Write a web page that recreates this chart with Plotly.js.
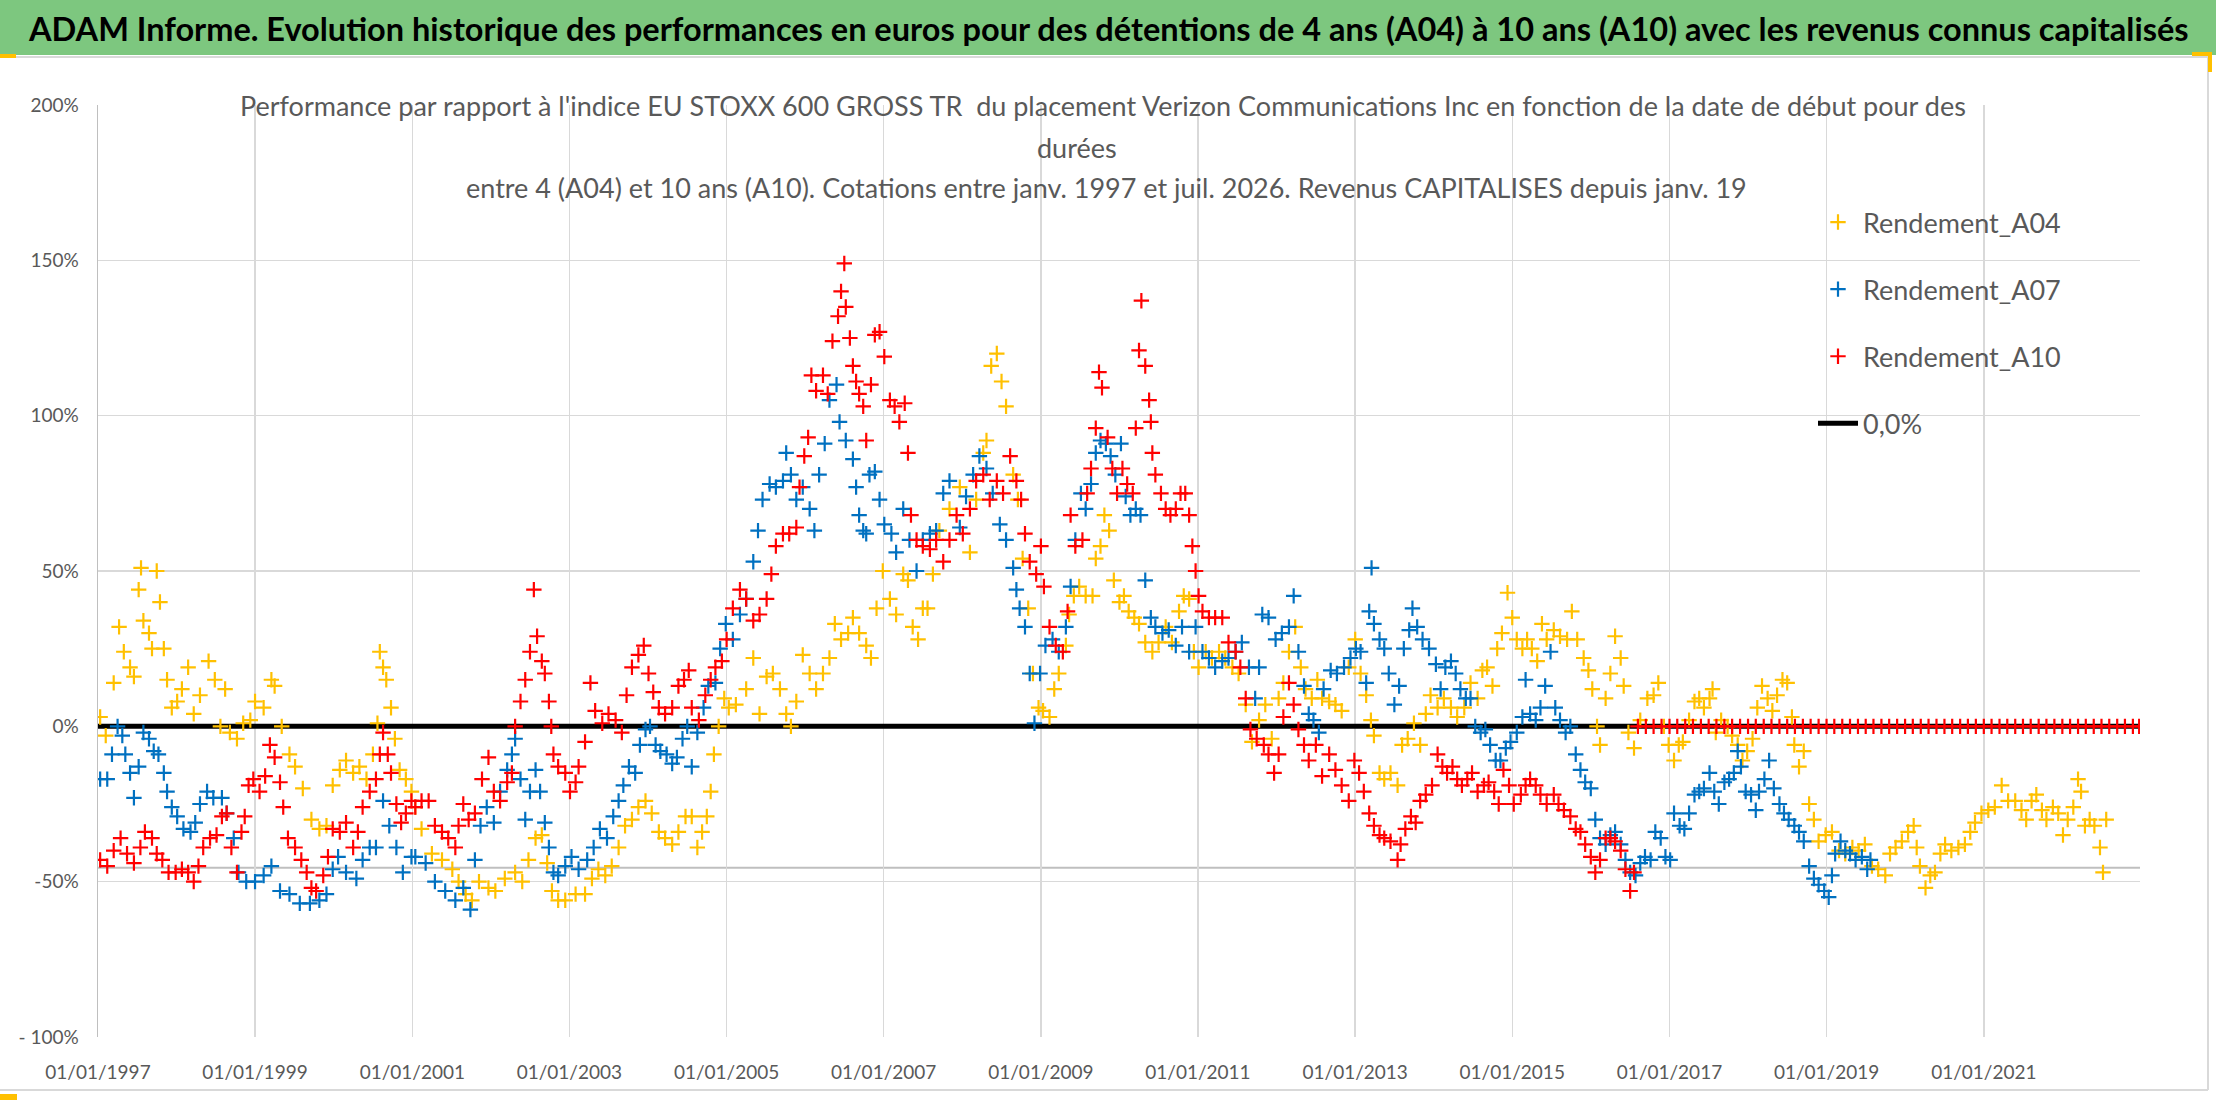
<!DOCTYPE html>
<html>
<head>
<meta charset="utf-8">
<script src="https://cdn.plot.ly/plotly-3.0.1.min.js"></script>
<style>
  html, body { margin: 0; padding: 0; background: #ffffff; }
  #chart { width: 2216px; height: 1102px; }
</style>
</head>
<body>
<div id="chart"></div>
<script>
// values: [decimal year of start date, performance in %]
const a04 = [
  [1997.03,3],[1997.10,-3],[1997.20,14],[1997.27,32],[1997.33,24],[1997.41,19],[1997.46,16],[1997.52,44],[1997.55,51],[1997.58,34],[1997.65,30],[1997.69,25],[1997.75,50],[1997.79,40],[1997.84,25],[1997.88,15],[1997.94,6],
  [1998.01,8],[1998.07,12],[1998.15,19],[1998.22,4],[1998.30,10],[1998.41,21],[1998.49,15],[1998.56,0],[1998.62,12],[1998.68,-2],[1998.77,-4],[1998.85,1],[1998.94,2],
  [1999.00,8],[1999.11,6],[1999.21,15],[1999.25,13],[1999.34,0],[1999.44,-9],[1999.51,-13],[1999.61,-20],[1999.72,-30],[1999.82,-33],[1999.91,-32],
  [1999.99,-19],[2000.08,-14],[2000.16,-11],[2000.25,-15],[2000.33,-13],[2000.42,-17],[2000.50,-9],[2000.56,1],[2000.59,24],[2000.63,19],[2000.67,15],[2000.73,6],[2000.78,-4],[2000.84,-14],[2000.92,-17],[2000.99,-21],
  [2001.04,-26],[2001.12,-33],[2001.25,-41],[2001.38,-43],[2001.51,-46],[2001.59,-50],[2001.68,-54],[2001.76,-56],[2001.85,-50],[2001.97,-52],
  [2002.06,-53],[2002.18,-49],[2002.31,-47],[2002.40,-50],[2002.48,-43],[2002.57,-36],[2002.65,-35],[2002.72,-44],[2002.78,-53],[2002.86,-56],[2002.95,-56],
  [2003.08,-54],[2003.20,-54],[2003.29,-49],[2003.37,-46],[2003.46,-48],[2003.54,-45],[2003.63,-39],[2003.71,-32],[2003.80,-30],[2003.88,-26],[2003.97,-24],
  [2004.05,-28],[2004.14,-34],[2004.22,-36],[2004.31,-38],[2004.39,-34],[2004.48,-29],[2004.56,-29],[2004.63,-39],[2004.69,-34],[2004.75,-29],[2004.80,-21],[2004.84,-9],[2004.90,0],[2004.97,9],
  [2005.03,6],[2005.12,7],[2005.25,12],[2005.34,22],[2005.42,4],[2005.51,16],[2005.59,17],[2005.68,12],[2005.76,4],[2005.82,0],[2005.89,8],[2005.97,23],
  [2006.06,17],[2006.14,12],[2006.23,17],[2006.31,22],[2006.38,33],[2006.46,28],[2006.55,30],[2006.61,35],[2006.69,30],[2006.78,26],[2006.84,22],[2006.91,38],[2006.99,50],
  [2007.08,41],[2007.16,36],[2007.25,49],[2007.31,47],[2007.37,32],[2007.44,28],[2007.50,38],[2007.56,38],[2007.63,49],[2007.71,63],[2007.84,70],[2007.97,77],
  [2008.10,56],[2008.18,73],[2008.27,88],[2008.31,92],[2008.37,116],[2008.44,120],[2008.50,111],[2008.56,103],[2008.65,81],[2008.71,73],[2008.77,54],[2008.84,38],[2008.90,17],[2008.97,6],
  [2009.03,5],[2009.11,3],[2009.17,12],[2009.23,17],[2009.32,26],[2009.36,36],[2009.42,42],[2009.49,45],[2009.57,42],[2009.66,42],[2009.70,54],[2009.76,58],[2009.81,68],[2009.87,63],[2009.93,47],
  [2010.00,40],[2010.06,42],[2010.12,37],[2010.19,35],[2010.25,33],[2010.33,27],[2010.42,24],[2010.50,27],[2010.59,32],[2010.67,27],[2010.76,37],[2010.82,42],[2010.89,41],[2010.95,24],
  [2011.01,19],[2011.10,24],[2011.18,22],[2011.27,24],[2011.35,22],[2011.44,19],[2011.52,17],[2011.61,7],[2011.69,-5],[2011.78,2],[2011.86,7],[2011.94,-4],
  [2012.03,9],[2012.09,14],[2012.16,24],[2012.24,32],[2012.31,19],[2012.37,12],[2012.45,9],[2012.52,15],[2012.58,9],[2012.67,8],[2012.75,7],[2012.83,5],[2012.92,19],
  [2013.00,28],[2013.07,17],[2013.14,10],[2013.20,2],[2013.24,-3],[2013.31,-15],[2013.37,-17],[2013.45,-15],[2013.54,-19],[2013.60,-6],[2013.67,-4],[2013.75,1],[2013.83,-6],[2013.90,4],[2013.96,10],
  [2014.05,6],[2014.13,9],[2014.22,6],[2014.30,3],[2014.39,6],[2014.47,14],[2014.56,9],[2014.62,18],[2014.68,19],[2014.75,13],[2014.81,25],[2014.87,30],[2014.94,43],
  [2015.00,35],[2015.06,28],[2015.13,25],[2015.19,28],[2015.25,25],[2015.32,21],[2015.38,33],[2015.44,28],[2015.53,31],[2015.61,29],[2015.70,28],[2015.76,37],[2015.83,28],[2015.91,22],[2015.97,18],
  [2016.02,12],[2016.08,0],[2016.12,-6],[2016.19,9],[2016.25,17],[2016.31,29],[2016.38,22],[2016.42,13],[2016.48,-2],[2016.55,-7],[2016.63,2],[2016.72,9],[2016.80,10],[2016.86,14],[2016.93,0],[2016.99,-6],
  [2017.06,-11],[2017.12,-6],[2017.17,-5],[2017.25,2],[2017.32,8],[2017.38,9],[2017.44,6],[2017.51,9],[2017.55,12],[2017.59,-2],[2017.66,2],[2017.74,0],[2017.80,-3],[2017.87,-6],[2017.93,-11],[2017.99,-8],
  [2018.06,-4],[2018.12,6],[2018.18,13],[2018.25,9],[2018.31,5],[2018.37,10],[2018.44,15],[2018.50,14],[2018.56,3],[2018.59,-6],[2018.65,-13],[2018.71,-8],[2018.78,-25],[2018.84,-30],[2018.90,-37],[2018.99,-35],
  [2019.07,-34],[2019.16,-40],[2019.24,-41],[2019.33,-39],[2019.41,-40],[2019.49,-38],[2019.58,-45],[2019.66,-46],[2019.75,-48],[2019.81,-41],[2019.88,-39],[2019.96,-37],
  [2020.04,-34],[2020.11,-32],[2020.15,-39],[2020.19,-45],[2020.26,-52],[2020.32,-48],[2020.38,-47],[2020.45,-41],[2020.51,-38],[2020.59,-40],[2020.68,-39],[2020.76,-38],[2020.83,-34],[2020.89,-31],[2020.97,-28],
  [2021.06,-27],[2021.14,-26],[2021.23,-19],[2021.31,-24],[2021.40,-24],[2021.48,-27],[2021.54,-30],[2021.61,-24],[2021.67,-22],[2021.74,-27],[2021.80,-30],[2021.88,-26],[2021.95,-28],
  [2022.01,-35],[2022.07,-30],[2022.14,-26],[2022.20,-17],[2022.24,-21],[2022.29,-32],[2022.35,-30],[2022.41,-32],[2022.48,-39],[2022.52,-47],[2022.56,-30]
];

const a07 = [
  [1997.03,-17],[1997.12,-17],[1997.18,-9],[1997.25,0],[1997.31,-3],[1997.35,-9],[1997.41,-15],[1997.46,-23],[1997.52,-13],[1997.58,-2],[1997.65,-4],[1997.71,-8],[1997.77,-9],[1997.84,-15],[1997.88,-21],[1997.94,-26],
  [1998.01,-29],[1998.09,-33],[1998.18,-34],[1998.24,-31],[1998.30,-25],[1998.39,-21],[1998.47,-23],[1998.58,-23],[1998.64,-28],[1998.73,-36],[1998.79,-47],[1998.89,-50],
  [1999.00,-50],[1999.11,-48],[1999.21,-45],[1999.32,-53],[1999.44,-54],[1999.57,-57],[1999.70,-57],[1999.82,-56],[1999.91,-54],
  [1999.99,-46],[2000.06,-42],[2000.16,-47],[2000.29,-49],[2000.37,-43],[2000.46,-39],[2000.54,-39],[2000.63,-24],[2000.71,-32],[2000.80,-39],[2000.88,-47],[2000.99,-42],
  [2001.04,-42],[2001.17,-44],[2001.29,-50],[2001.42,-53],[2001.55,-56],[2001.65,-52],[2001.74,-59],[2001.80,-43],[2001.87,-32],[2001.95,-26],
  [2002.04,-31],[2002.12,-21],[2002.21,-14],[2002.27,-9],[2002.31,-4],[2002.38,-17],[2002.44,-30],[2002.50,-21],[2002.57,-14],[2002.63,-21],[2002.69,-31],[2002.74,-39],[2002.80,-47],[2002.86,-48],[2002.95,-45],
  [2003.03,-42],[2003.12,-46],[2003.23,-43],[2003.31,-39],[2003.39,-33],[2003.48,-36],[2003.56,-29],[2003.63,-24],[2003.69,-19],[2003.76,-13],[2003.84,-15],[2003.90,-6],[2003.97,-1],
  [2004.03,0],[2004.10,-6],[2004.16,-8],[2004.24,-9],[2004.31,-12],[2004.37,-10],[2004.44,-4],[2004.50,0],[2004.56,-13],[2004.63,-2],[2004.71,6],[2004.77,13],[2004.86,14],[2004.92,25],[2004.99,33],
  [2005.08,28],[2005.17,36],[2005.25,41],[2005.34,53],[2005.40,63],[2005.46,73],[2005.55,78],[2005.63,77],[2005.72,79],[2005.76,88],[2005.82,81],[2005.89,73],[2005.97,77],
  [2006.06,70],[2006.12,63],[2006.18,81],[2006.25,91],[2006.31,105],[2006.40,110],[2006.44,98],[2006.52,92],[2006.61,86],[2006.65,77],[2006.69,68],[2006.74,63],[2006.78,62],[2006.82,81],[2006.89,82],[2006.95,73],
  [2007.01,65],[2007.10,62],[2007.16,56],[2007.25,70],[2007.33,60],[2007.42,50],[2007.50,60],[2007.59,62],[2007.67,63],[2007.76,75],[2007.84,79],[2007.97,64],
  [2008.05,74],[2008.14,81],[2008.22,87],[2008.31,83],[2008.39,75],[2008.48,65],[2008.56,60],[2008.65,51],[2008.69,44],[2008.73,38],[2008.80,32],[2008.86,17],[2008.92,1],[2008.99,17],
  [2009.06,26],[2009.15,28],[2009.23,24],[2009.32,32],[2009.38,45],[2009.44,60],[2009.51,75],[2009.57,70],[2009.64,78],[2009.70,88],[2009.76,92],[2009.83,91],[2009.89,87],[2009.95,81],
  [2010.02,91],[2010.08,74],[2010.14,68],[2010.21,70],[2010.27,68],[2010.33,47],[2010.40,35],[2010.46,32],[2010.55,30],[2010.63,31],[2010.72,26],[2010.80,32],[2010.89,24],[2010.97,32],
  [2011.06,24],[2011.14,22],[2011.22,19],[2011.31,21],[2011.39,22],[2011.48,24],[2011.56,27],[2011.65,19],[2011.73,9],[2011.78,19],[2011.82,36],[2011.90,35],[2011.99,28],
  [2012.07,30],[2012.16,32],[2012.22,42],[2012.28,24],[2012.35,13],[2012.41,4],[2012.47,2],[2012.54,-2],[2012.60,12],[2012.69,18],[2012.77,17],[2012.86,19],[2012.94,22],
  [2013.01,25],[2013.07,24],[2013.14,14],[2013.18,37],[2013.21,51],[2013.24,33],[2013.31,28],[2013.37,25],[2013.43,17],[2013.50,7],[2013.56,13],[2013.62,25],[2013.69,31],[2013.73,38],[2013.79,32],[2013.86,28],[2013.94,25],
  [2014.03,20],[2014.09,12],[2014.15,19],[2014.22,21],[2014.28,17],[2014.34,12],[2014.41,9],[2014.47,9],[2014.53,0],[2014.60,-2],[2014.66,-1],[2014.72,-6],[2014.79,-11],[2014.85,-11],[2014.92,-7],[2014.98,-5],
  [2015.06,-2],[2015.13,3],[2015.17,15],[2015.23,4],[2015.30,2],[2015.36,6],[2015.42,13],[2015.49,24],[2015.55,6],[2015.61,2],[2015.68,-2],[2015.74,0],[2015.81,-9],[2015.87,-14],[2015.93,-18],
  [2016.00,-20],[2016.06,-30],[2016.12,-36],[2016.19,-38],[2016.25,-35],[2016.31,-34],[2016.38,-38],[2016.44,-43],[2016.50,-47],[2016.57,-48],[2016.63,-44],[2016.69,-42],[2016.76,-43],[2016.82,-34],[2016.89,-36],[2016.95,-42],
  [2017.01,-43],[2017.06,-28],[2017.13,-32],[2017.19,-33],[2017.25,-28],[2017.32,-22],[2017.38,-21],[2017.44,-20],[2017.51,-15],[2017.57,-21],[2017.63,-25],[2017.70,-18],[2017.76,-17],[2017.82,-15],[2017.87,-8],[2017.91,-13],[2017.97,-21],
  [2018.04,-22],[2018.10,-27],[2018.14,-21],[2018.21,-17],[2018.27,-11],[2018.33,-20],[2018.40,-25],[2018.46,-28],[2018.52,-30],[2018.59,-32],[2018.65,-34],[2018.71,-37],[2018.78,-45],[2018.84,-49],[2018.90,-51],[2018.97,-53],
  [2019.03,-55],[2019.07,-48],[2019.11,-41],[2019.18,-37],[2019.24,-40],[2019.30,-41],[2019.37,-43],[2019.45,-42],[2019.52,-46],[2019.56,-43]
];

const a10 = [
  [1997.03,-43],[1997.12,-45],[1997.20,-40],[1997.29,-36],[1997.37,-41],[1997.46,-44],[1997.54,-39],[1997.60,-34],[1997.69,-36],[1997.75,-41],[1997.82,-43],[1997.90,-47],
  [1997.99,-47],[1998.07,-46],[1998.15,-47],[1998.22,-50],[1998.28,-45],[1998.34,-39],[1998.43,-36],[1998.51,-35],[1998.58,-29],[1998.64,-28],[1998.70,-39],[1998.77,-47],[1998.83,-34],[1998.87,-29],[1998.92,-19],[1998.98,-17],
  [1999.06,-21],[1999.13,-16],[1999.19,-6],[1999.25,-10],[1999.32,-18],[1999.36,-26],[1999.42,-36],[1999.51,-39],[1999.59,-43],[1999.66,-47],[1999.72,-52],[1999.78,-53],[1999.87,-48],[1999.93,-42],
  [1999.99,-33],[2000.08,-34],[2000.16,-31],[2000.25,-39],[2000.31,-34],[2000.37,-26],[2000.46,-21],[2000.54,-17],[2000.59,-9],[2000.63,-2],[2000.69,-9],[2000.73,-15],[2000.80,-25],[2000.86,-31],[2000.92,-28],[2000.99,-24],
  [2001.04,-26],[2001.12,-24],[2001.21,-24],[2001.29,-32],[2001.38,-34],[2001.46,-36],[2001.55,-39],[2001.59,-32],[2001.65,-25],[2001.72,-30],[2001.80,-28],[2001.89,-17],[2001.97,-10],
  [2002.04,-21],[2002.12,-24],[2002.21,-18],[2002.27,-15],[2002.31,0],[2002.38,8],[2002.44,15],[2002.50,24],[2002.55,44],[2002.59,29],[2002.65,21],[2002.69,17],[2002.74,8],[2002.77,0],[2002.80,-9],[2002.86,-13],[2002.95,-15],
  [2003.01,-21],[2003.08,-18],[2003.12,-13],[2003.20,-5],[2003.27,14],[2003.33,5],[2003.42,1],[2003.50,4],[2003.59,2],[2003.67,-2],[2003.73,10],[2003.80,19],[2003.88,23],[2003.95,26],
  [2004.01,17],[2004.07,11],[2004.14,6],[2004.22,4],[2004.31,6],[2004.39,13],[2004.46,15],[2004.52,18],[2004.56,6],[2004.65,2],[2004.73,10],[2004.80,15],[2004.86,19],[2004.94,21],
  [2005.00,28],[2005.08,38],[2005.17,44],[2005.25,41],[2005.34,34],[2005.42,36],[2005.51,41],[2005.57,49],[2005.63,58],[2005.72,62],[2005.80,62],[2005.89,64],[2005.93,77],[2005.99,87],
  [2006.04,93],[2006.08,113],[2006.14,108],[2006.23,113],[2006.29,107],[2006.35,124],[2006.42,132],[2006.46,140],[2006.50,149],[2006.52,135],[2006.57,125],[2006.61,116],[2006.65,111],[2006.69,107],[2006.74,103],[2006.78,92],[2006.84,110],[2006.89,126],[2006.95,127],
  [2007.01,119],[2007.08,105],[2007.14,103],[2007.20,98],[2007.27,104],[2007.31,88],[2007.35,68],[2007.42,60],[2007.50,58],[2007.59,57],[2007.67,60],[2007.76,53],[2007.84,60],[2007.93,68],
  [2008.01,62],[2008.10,70],[2008.18,79],[2008.27,81],[2008.35,73],[2008.44,79],[2008.52,75],[2008.61,87],[2008.69,79],[2008.75,73],[2008.80,62],[2008.86,53],[2008.94,49],
  [2009.00,58],[2009.04,45],[2009.11,32],[2009.19,26],[2009.28,24],[2009.34,37],[2009.38,68],[2009.44,58],[2009.53,60],[2009.59,75],[2009.64,83],[2009.70,96],[2009.74,114],[2009.78,109],[2009.85,93],[2009.91,83],[2009.97,75],
  [2010.04,83],[2010.10,78],[2010.17,75],[2010.21,96],[2010.25,121],[2010.28,137],[2010.33,116],[2010.38,105],[2010.40,98],[2010.42,88],[2010.46,81],[2010.53,75],[2010.59,70],[2010.65,68],[2010.72,70],[2010.78,75],[2010.84,75],[2010.89,68],[2010.93,58],[2010.97,50],
  [2011.01,42],[2011.06,37],[2011.14,35],[2011.22,35],[2011.31,35],[2011.39,27],[2011.48,24],[2011.54,19],[2011.61,9],[2011.67,-1],[2011.75,-4],[2011.84,-6],[2011.90,-9],[2011.97,-15],
  [2012.03,-9],[2012.09,3],[2012.16,14],[2012.22,7],[2012.28,-1],[2012.35,-6],[2012.41,-11],[2012.50,-6],[2012.58,-16],[2012.67,-9],[2012.75,-14],[2012.83,-19],[2012.92,-24],
  [2012.99,-11],[2013.05,-15],[2013.11,-21],[2013.18,-28],[2013.24,-32],[2013.31,-35],[2013.37,-36],[2013.45,-37],[2013.54,-43],[2013.58,-38],[2013.64,-33],[2013.71,-29],[2013.77,-31],[2013.83,-24],[2013.90,-22],[2013.98,-19],
  [2014.05,-9],[2014.11,-13],[2014.17,-15],[2014.24,-13],[2014.30,-17],[2014.36,-19],[2014.43,-17],[2014.49,-15],[2014.56,-21],[2014.64,-19],[2014.70,-18],[2014.77,-21],[2014.83,-25],[2014.89,-14],[2014.96,-19],
  [2015.02,-25],[2015.11,-22],[2015.17,-19],[2015.23,-17],[2015.30,-19],[2015.36,-22],[2015.44,-25],[2015.53,-22],[2015.59,-25],[2015.66,-27],[2015.74,-29],[2015.81,-33],[2015.87,-34],[2015.93,-38],
  [2016.00,-42],[2016.06,-47],[2016.12,-43],[2016.19,-36],[2016.25,-36],[2016.31,-37],[2016.38,-40],[2016.44,-46],[2016.50,-53],[2016.55,-47]
];

// start dates for which the 10-year return is shown as 0 (red band on the zero line)
const a10ZeroYears = [
  2016.60,2016.70,2016.80,2016.90,2017.00,2017.10,2017.20,2017.30,2017.40,2017.50,2017.60,2017.70,2017.80,2017.90,
  2018.00,2018.10,2018.20,2018.30,2018.40,2018.50,2018.60,2018.70,2018.80,2018.90,
  2019.00,2019.10,2019.20,2019.30,2019.40,2019.50,2019.60,2019.70,2019.80,2019.90,
  2020.00,2020.10,2020.20,2020.30,2020.40,2020.50,2020.60,2020.70,2020.80,2020.90,
  2021.00,2021.10,2021.20,2021.30,2021.40,2021.50,2021.60,2021.70,2021.80,2021.90,
  2022.00,2022.10,2022.20,2022.30,2022.40,2022.50,2022.60,2022.70,2022.80,2022.90,2022.98
];

const zeroLine = [[1997.0, 0], [2022.99, 0]];

const yTickVals = [-100, -50, 0, 50, 100, 150, 200];
const yTickText = ['- 100%', '-50%', '0%', '50%', '100%', '150%', '200%'];

const seriesNames = ['Rendement_A04', 'Rendement_A07', 'Rendement_A10', '0,0%'];
const seriesColors = ['#FFC000', '#0070C0', '#FF0000', '#000000'];

const headerText = 'ADAM Informe. Evolution historique des performances en euros pour des détentions de 4 ans (A04) à 10 ans (A10) avec les revenus connus capitalisés';
const titleLines = [
  "Performance par rapport à l'indice EU STOXX 600 GROSS TR  du placement Verizon Communications Inc en fonction de la date de début pour des",
  'durées',
  'entre 4 (A04) et 10 ans (A10). Cotations entre janv. 1997 et juil. 2026. Revenus CAPITALISES depuis janv. 19'
];

// decimal year -> ISO date
function toDate(t) {
  const y = Math.floor(t);
  const start = Date.UTC(y, 0, 1);
  const end = Date.UTC(y + 1, 0, 1);
  return new Date(start + (t - y) * (end - start)).toISOString().slice(0, 10);
}

const FONT = 'Lato, "Open Sans", sans-serif';
const GREY = '#595959';

function crossTrace(points, i) {
  return {
    type: 'scatter',
    mode: 'markers',
    name: seriesNames[i],
    legendgroup: 'g' + i,
    legendrank: i + 1,
    x: points.map(p => toDate(p[0])),
    y: points.map(p => p[1]),
    marker: {
      symbol: 'cross-thin',
      size: 11,
      color: seriesColors[i],
      line: { color: seriesColors[i], width: 2.2 }
    },
    hoverinfo: 'skip'
  };
}

const a10All = a10.concat(a10ZeroYears.map(t => [t, 0]));

const data = [
  {
    type: 'scatter',
    mode: 'lines',
    name: seriesNames[3],
    legendgroup: 'g3',
    legendrank: 4,
    x: zeroLine.map(p => toDate(p[0])),
    y: zeroLine.map(p => p[1]),
    line: { color: seriesColors[3], width: 5 },
    hoverinfo: 'skip'
  },
  crossTrace(a04, 0),
  crossTrace(a07, 1),
  crossTrace(a10All, 2)
];

// plot area in page pixels: left 98, right 2140, top 105, bottom 1037
const px = x => (x - 98) / 2042;
const py = y => (1037 - y) / 932;

const shapes = [
  // green header band
  { type: 'rect', xref: 'paper', yref: 'paper', x0: px(0), x1: px(2216), y0: py(55), y1: py(0),
    fillcolor: '#7DC77F', line: { width: 0 }, layer: 'below' },
  { type: 'line', xref: 'paper', yref: 'paper', x0: px(0), x1: px(2208), y0: py(57), y1: py(57),
    line: { color: '#D9D9D9', width: 2 } },
  // chart border
  { type: 'line', xref: 'paper', yref: 'paper', x0: px(2208), x1: px(2208), y0: py(1090), y1: py(57),
    line: { color: '#D9D9D9', width: 2 } },
  { type: 'line', xref: 'paper', yref: 'paper', x0: px(0), x1: px(2208), y0: py(1090), y1: py(1090),
    line: { color: '#D9D9D9', width: 2 } },
  // selection handles
  { type: 'rect', xref: 'paper', yref: 'paper', x0: px(0), x1: px(16), y0: py(58), y1: py(54),
    fillcolor: '#FFC000', line: { width: 0 } },
  { type: 'rect', xref: 'paper', yref: 'paper', x0: px(2192), x1: px(2212), y0: py(56), y1: py(52),
    fillcolor: '#FFC000', line: { width: 0 } },
  { type: 'rect', xref: 'paper', yref: 'paper', x0: px(2208), x1: px(2212), y0: py(72), y1: py(52),
    fillcolor: '#FFC000', line: { width: 0 } },
  { type: 'rect', xref: 'paper', yref: 'paper', x0: px(0), x1: px(17), y0: py(1100), y1: py(1094),
    fillcolor: '#FFC000', line: { width: 0 } },
  // white boxes hiding gridlines behind the title and the legend
  { type: 'rect', xref: 'paper', yref: 'paper', x0: px(236), x1: px(1970), y0: py(212), y1: py(95),
    fillcolor: '#FFFFFF', line: { width: 0 }, layer: 'between' },
  { type: 'rect', xref: 'paper', yref: 'paper', x0: px(1813), x1: 1.0, y0: py(452), y1: py(190),
    fillcolor: '#FFFFFF', line: { width: 0 }, layer: 'between' },
  // horizontal axis line crossing near -45 %
  { type: 'line', xref: 'paper', yref: 'y', x0: 0, x1: 1, y0: -45.5, y1: -45.5,
    line: { color: '#BFBFBF', width: 2 }, layer: 'between' }
];

const annotations = [
  { xref: 'paper', yref: 'paper', x: px(1108), y: py(28), xanchor: 'center', yanchor: 'middle',
    text: '<b>' + headerText + '</b>', showarrow: false,
    font: { family: FONT, size: 32.5, color: '#000000' } },
  { xref: 'paper', yref: 'paper', x: px(1103), y: py(106), xanchor: 'center', yanchor: 'middle',
    text: titleLines[0], showarrow: false, font: { family: FONT, size: 27, color: GREY } },
  { xref: 'paper', yref: 'paper', x: px(1077), y: py(147), xanchor: 'center', yanchor: 'middle',
    text: titleLines[1], showarrow: false, font: { family: FONT, size: 27, color: GREY } },
  { xref: 'paper', yref: 'paper', x: px(1106), y: py(187), xanchor: 'center', yanchor: 'middle',
    text: titleLines[2], showarrow: false, font: { family: FONT, size: 27, color: GREY } }
];

const layout = {
  width: 2216,
  height: 1102,
  margin: { l: 98, r: 76, t: 105, b: 65, pad: 0 },
  paper_bgcolor: '#FFFFFF',
  plot_bgcolor: '#FFFFFF',
  font: { family: FONT, color: GREY },
  showlegend: true,
  legend: {
    x: px(1813), y: py(198), xanchor: 'left', yanchor: 'top',
    bgcolor: 'rgba(255,255,255,0)',
    font: { family: FONT, size: 27, color: GREY },
    traceorder: 'grouped',
    tracegroupgap: 29,
    itemwidth: 40
  },
  xaxis: {
    type: 'date',
    range: ['1997-01-01', '2022-12-28'],
    tick0: '1997-01-01',
    dtick: 'M24',
    tickformat: '%d/%m/%Y',
    showgrid: true,
    gridcolor: '#D9D9D9',
    gridwidth: 1.5,
    zeroline: false,
    showline: false,
    ticks: '',
    ticklabelstandoff: 22,
    tickfont: { family: FONT, size: 19, color: GREY }
  },
  yaxis: {
    range: [-100, 200],
    tickvals: yTickVals,
    ticktext: yTickText,
    showgrid: true,
    gridcolor: '#D9D9D9',
    gridwidth: 1.5,
    zeroline: false,
    showline: true,
    linecolor: '#BFBFBF',
    linewidth: 1.5,
    ticks: '',
    ticklabelstandoff: 14,
    tickfont: { family: FONT, size: 19, color: GREY }
  },
  shapes: shapes,
  annotations: annotations
};

Plotly.newPlot('chart', data, layout, { staticPlot: true, displayModeBar: false });
</script>
</body>
</html>
